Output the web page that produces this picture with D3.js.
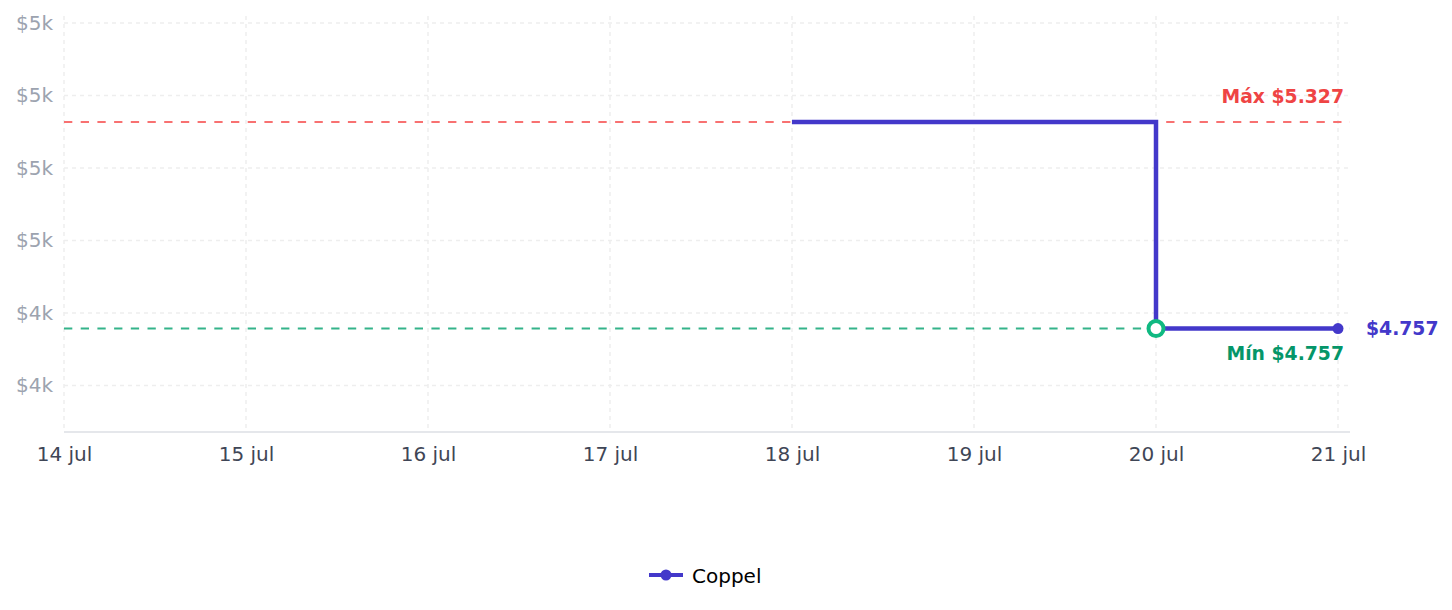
<!DOCTYPE html>
<html><head><meta charset="utf-8">
<script src="https://cdn.jsdelivr.net/npm/d3@7"></script>
<style>
html,body{margin:0;padding:0;background:#fff;}
svg{display:block;font-family:"DejaVu Sans",sans-serif;}
</style></head>
<body>
<svg id="chart" width="1452" height="610"></svg>
<script>
const seriesName = "Coppel";
const dates = ["2024-07-18","2024-07-19","2024-07-20","2024-07-21"];
const prices = [5327, 5327, 4757, 4757];
const xDomain = ["2024-07-14","2024-07-21"];
const xTickLabels = ["14 jul","15 jul","16 jul","17 jul","18 jul","19 jul","20 jul","21 jul"];
const yTicks = [4600, 4800, 5000, 5200, 5400, 5600];
const yTickLabels = ["$4k","$4k","$5k","$5k","$5k","$5k"];
const maxLabel = "Máx $5.327";
const minLabel = "Mín $4.757";
const lastLabel = "$4.757";

(function(){
const parse = d3.timeParse("%Y-%m-%d");
const data = dates.map((d,i)=>({date:parse(d), value:prices[i]}));

const svg = d3.select("#chart");
const mLeft = 64, mRight = 1338, plotRight = 1350, mTop = 16, mBottom = 432;

const x = d3.scaleTime().domain(xDomain.map(parse)).range([mLeft, mRight]);
const pxPer = (313-23)/800;
const y = d3.scaleLinear().domain([4800 - (mBottom-313)/pxPer, 5600 + (23-mTop)/pxPer]).range([mBottom, mTop]);

const lineColor = "#4338ca";
const xTicks = d3.range(xTickLabels.length).map(i => d3.timeDay.offset(parse(xDomain[0]), i));

const grid = svg.append("g");
grid.selectAll("line.h").data(yTicks).join("line")
  .attr("x1", mLeft).attr("x2", plotRight)
  .attr("y1", d=>y(d)).attr("y2", d=>y(d))
  .attr("stroke", "#eeeeee").attr("stroke-width", 1.5).attr("stroke-dasharray", "4 4");
grid.selectAll("line.v").data(xTicks).join("line")
  .attr("x1", d=>x(d)).attr("x2", d=>x(d))
  .attr("y1", mTop).attr("y2", mBottom)
  .attr("stroke", "#eeeeee").attr("stroke-width", 1.5).attr("stroke-dasharray", "4 4");

const yAxis = d3.axisLeft(y).tickValues(yTicks).tickSize(0).tickPadding(11)
  .tickFormat((d,i)=>yTickLabels[i]);
const gy = svg.append("g").attr("transform",`translate(${mLeft},0)`).call(yAxis);
gy.select(".domain").remove();
gy.selectAll("text").attr("fill","#9ca3af").style("font-size","20px").style("font-family","DejaVu Sans");

const xAxis = d3.axisBottom(x).tickValues(xTicks).tickSize(0).tickPadding(15)
  .tickFormat((d,i)=>xTickLabels[i]);
const gx = svg.append("g").attr("transform",`translate(0,${mBottom})`).call(xAxis);
gx.select(".domain").remove();
gx.selectAll("text").attr("fill","#3f4656").style("font-size","20px").style("font-family","DejaVu Sans");
svg.append("line").attr("x1", mLeft).attr("x2", plotRight).attr("y1", mBottom).attr("y2", mBottom)
  .attr("stroke","#e5e7eb").attr("stroke-width",2);

const maxV = d3.max(prices), minV = d3.min(prices);
const minIdx = prices.indexOf(minV);

svg.append("line").attr("x1", mLeft).attr("x2", plotRight).attr("y1", y(maxV)).attr("y2", y(maxV))
  .attr("stroke","#f87171").attr("stroke-width",2).attr("stroke-dasharray","8.3 8.4");
svg.append("line").attr("x1", mLeft).attr("x2", plotRight).attr("y1", y(minV)).attr("y2", y(minV))
  .attr("stroke","#34b38a").attr("stroke-width",2).attr("stroke-dasharray","8.3 8.4");

svg.append("text").attr("x", 1344).attr("y", y(maxV)-25).attr("text-anchor","end")
  .attr("dominant-baseline","central")
  .attr("fill","#ef4444").style("font-size","18.8px").style("font-weight","bold").text(maxLabel);
svg.append("text").attr("x", 1344).attr("y", y(minV)+25).attr("text-anchor","end")
  .attr("dominant-baseline","central")
  .attr("fill","#059669").style("font-size","18.8px").style("font-weight","bold").text(minLabel);

const line = d3.line().x(d=>x(d.date)).y(d=>y(d.value)).curve(d3.curveStepAfter);
svg.append("path").datum(data).attr("d", line).attr("fill","none")
  .attr("stroke", lineColor).attr("stroke-width",4.5).attr("stroke-linejoin","miter");

svg.append("circle").attr("cx", x(data[minIdx].date)).attr("cy", y(minV)).attr("r",7.5)
  .attr("fill","#fff").attr("stroke","#10b981").attr("stroke-width",4);

const last = data[data.length-1];
svg.append("circle").attr("cx", x(last.date)).attr("cy", y(last.value)).attr("r",5.5).attr("fill", lineColor);
svg.append("text").attr("x", x(last.date)+28).attr("y", y(last.value)).attr("dominant-baseline","central")
  .attr("fill", lineColor).style("font-size","18.8px").style("font-weight","bold").text(lastLabel);

const lg = svg.append("g").attr("transform","translate(649,575)");
lg.append("line").attr("x1",0).attr("x2",34).attr("y1",0).attr("y2",0).attr("stroke",lineColor).attr("stroke-width",4);
lg.append("circle").attr("cx",17).attr("cy",0).attr("r",5.5).attr("fill",lineColor);
lg.append("text").attr("x",43).attr("y",1).attr("dominant-baseline","central")
  .attr("fill","#000").style("font-size","20px").text(seriesName);
})();
</script>
</body></html>
